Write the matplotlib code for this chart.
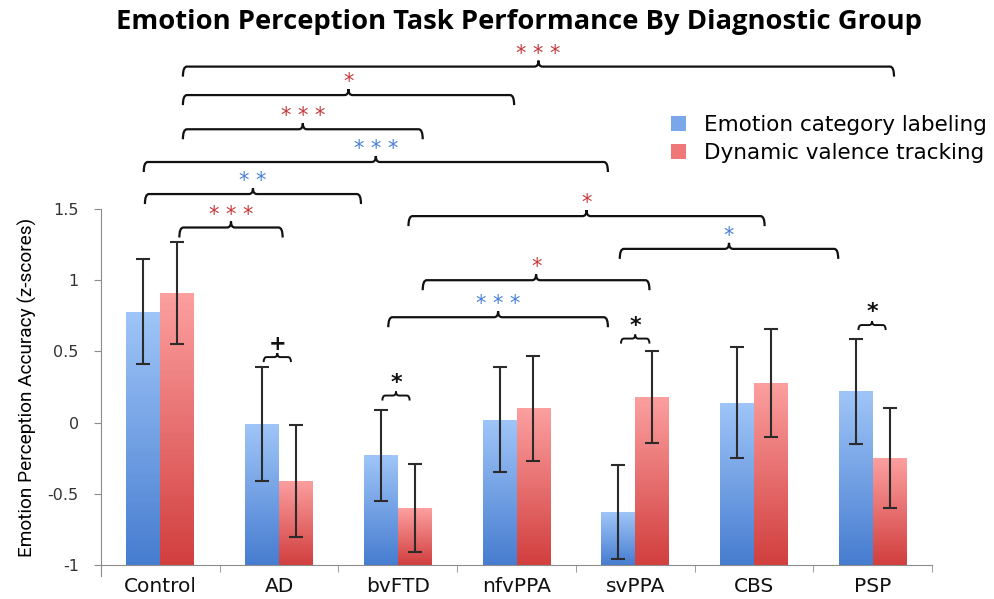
import numpy as np
import matplotlib
matplotlib.use('Agg')
import matplotlib.pyplot as plt
from matplotlib.colors import LinearSegmentedColormap
from matplotlib.patches import Patch
from matplotlib.path import Path
from matplotlib.patches import PathPatch

# datos
grupos = ['Control', 'AD', 'bvFTD', 'nfvPPA', 'svPPA', 'CBS', 'PSP']
etiquetado = [0.78, -0.01, -0.23, 0.02, -0.63, 0.14, 0.22]
etiquetado_err = [0.37, 0.40, 0.32, 0.37, 0.33, 0.39, 0.37]
valencia = [0.91, -0.41, -0.60, 0.10, 0.18, 0.28, -0.25]
valencia_err = [0.36, 0.39, 0.31, 0.37, 0.32, 0.38, 0.35]
series = ['Emotion category labeling', 'Dynamic valence tracking']

# llaves de significancia: x1, x2, y, texto, color
llaves_x1 = [0.19, 0.19, 0.19, -0.14, -0.13, 0.16, 2.09, 3.87, 2.21, 1.92, 3.88, 5.88, 1.87, 0.87]
llaves_x2 = [6.18, 2.98, 2.21, 3.77, 1.69, 1.03, 5.09, 5.71, 4.12, 3.77, 4.12, 6.11, 2.10, 1.10]
llaves_y = [2.50, 2.30, 2.06, 1.83, 1.605, 1.37, 1.45, 1.22, 1.00, 0.74, 0.59, 0.685, 0.19, 0.46]
llaves_txt = ['* * *', '*', '* * *', '* * *', '* *', '* * *', '*', '*', '*', '* * *', '*', '*', '*', '+']
llaves_col = ['r', 'r', 'r', 'b', 'b', 'r', 'r', 'b', 'r', 'b', 'k', 'k', 'k', 'k']

colores = {'r': '#c4393c', 'b': '#4a7fd6', 'k': '#111111'}
azul = ('#477dd0', '#9fc5f8')
rojo = ('#d23f3f', '#fc9f9f')
fuente = ['DejaVu Sans']

fig = plt.figure(figsize=(9.94, 5.99), dpi=100)
ax = fig.add_axes([101 / 994, 34 / 599, 831 / 994, 356 / 599])

x = np.arange(len(grupos))
ancho = 0.286
base = -1

# barras desde el fondo del eje, con degradado como en Excel
for vals, errs, off, (c_bot, c_top), nombre in [
        (etiquetado, etiquetado_err, -ancho / 2, azul, series[0]),
        (valencia, valencia_err, ancho / 2, rojo, series[1])]:
    vals = np.array(vals)
    barras = ax.bar(x + off, vals - base, bottom=base, width=ancho,
                    color=c_top, edgecolor='none', zorder=1, label=nombre)
    cmap = LinearSegmentedColormap.from_list('g', [c_bot, c_top])
    for b in barras:
        x0, y0 = b.get_x(), b.get_y()
        im = ax.imshow(np.linspace(0, 1, 64).reshape(-1, 1), cmap=cmap,
                       extent=[x0, x0 + b.get_width(), y0, y0 + b.get_height()],
                       origin='lower', aspect='auto', zorder=2)
        im.set_clip_path(b)
    ax.errorbar(x + off, vals, yerr=errs, fmt='none', ecolor='#2b2b2b',
                elinewidth=1.5, capsize=5, capthick=1.5, zorder=3)

ax.set_xlim(-0.5, 6.5)
ax.set_ylim(-1, 1.5)


# conversion de pixeles a datos para dibujar las llaves
px_x = 1 / 118.7
px_y = 1 / 142.4


def llave(x1, x2, y, grande=True):
    d = (10 if grande else 5) * px_y
    r = (4 if grande else 3) * px_x
    t = (6 if grande else 4) * px_y
    w = (4 if grande else 3) * px_x
    xm = (x1 + x2) / 2
    verts = [(x1, y - d), (x1, y), (x1 + r, y),
             (xm - w, y), (xm, y), (xm, y + t),
             (xm, y), (xm + w, y),
             (x2 - r, y), (x2, y), (x2, y - d)]
    codes = [Path.MOVETO, Path.CURVE3, Path.CURVE3,
             Path.LINETO, Path.CURVE3, Path.CURVE3,
             Path.CURVE3, Path.CURVE3,
             Path.LINETO, Path.CURVE3, Path.CURVE3]
    ax.add_patch(PathPatch(Path(verts, codes), facecolor='none',
                           edgecolor='#111111', lw=1.6 if grande else 1.4,
                           clip_on=False, zorder=4))


for x1, x2, y, txt, c in zip(llaves_x1, llaves_x2, llaves_y, llaves_txt, llaves_col):
    grande = (x2 - x1) > 0.5
    llave(x1, x2, y, grande)
    xm = (x1 + x2) / 2
    if c == 'k':
        ax.text(xm, y + 3 * px_y, txt, color=colores[c], ha='center', va='bottom',
                fontsize=16 if txt == '*' else 15, fontweight='bold', clip_on=False)
    else:
        ax.text(xm, y + 3 * px_y, txt, color=colores[c], ha='center', va='bottom',
                fontsize=15, clip_on=False)

# ejes
gris = '#8c8c8c'
for s in ['top', 'right']:
    ax.spines[s].set_visible(False)
ax.spines['left'].set_color(gris)
ax.spines['bottom'].set_color(gris)
ax.spines['left'].set_bounds(-1.08, 1.5)

ax.set_yticks([-1, -0.5, 0, 0.5, 1, 1.5])
ax.set_yticklabels(['-1', '-0.5', '0', '0.5', '1', '1.5'], fontsize=11.5,
                   color='#333333', family=fuente)
ax.tick_params(axis='y', length=5, color=gris, pad=11)

ax.set_xticks(x)
ax.set_xticklabels(grupos, fontsize=14.5, color='#111111', family=fuente)
ax.set_xticks(np.arange(-0.5, 7, 1), minor=True)
ax.tick_params(axis='x', which='major', length=0, pad=9)
ax.tick_params(axis='x', which='minor', length=5, color=gris)

ax.set_ylabel('Emotion Perception Accuracy (z-scores)', fontsize=13.7,
              family=['Liberation Sans Narrow', 'Roboto', 'DejaVu Sans'], labelpad=8)

ax.legend(handles=[Patch(facecolor='#7aa7ea', edgecolor='none'),
                   Patch(facecolor='#ef7777', edgecolor='none')],
          labels=series, loc='upper left', bbox_to_anchor=(652 / 994, 503 / 599),
          bbox_transform=fig.transFigure, frameon=False,
          handlelength=0.7, handleheight=0.7, handletextpad=0.8, labelspacing=0.35,
          prop={'family': fuente, 'size': 15.5})

fig.text(0.522, 0.963, 'Emotion Perception Task Performance By Diagnostic Group',
         ha='center', va='center', fontsize=19.7, fontweight='bold',
         family=['Open Sans', 'DejaVu Sans'])

fig.savefig('out.png', dpi=100)
